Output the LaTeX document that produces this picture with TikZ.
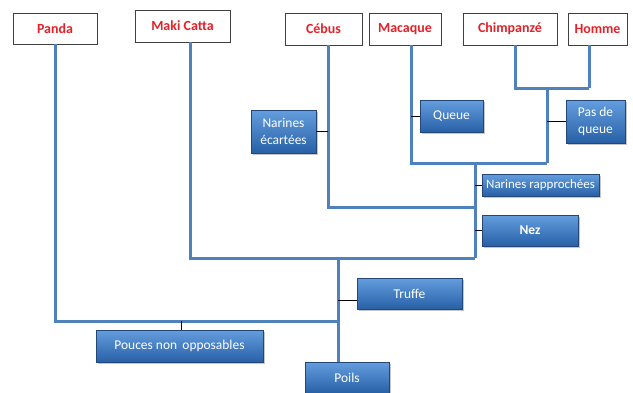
\documentclass[tikz,border=0pt]{standalone}
\usepackage{fontspec}
\setmainfont{Carlito}
\usetikzlibrary{shadows}
\definecolor{taxred}{RGB}{228,32,40}
\definecolor{branchblue}{RGB}{79,129,189}
\definecolor{boxtop}{RGB}{100,158,222}
\definecolor{boxbot}{RGB}{40,96,166}
\definecolor{boxedge}{RGB}{36,70,120}
\tikzset{
  taxon/.style={draw=black!75, fill=white, line width=0.8bp, inner sep=0pt,
    font=\bfseries\fontsize{14}{16}\selectfont, text=taxred},
  trait/.style={draw=boxedge, line width=0.6bp, top color=boxtop, bottom color=boxbot,
    inner sep=1pt, text=white, align=center, font=\fontsize{13.5}{17}\selectfont,
    drop shadow={shadow xshift=1.5bp, shadow yshift=-1.5bp, opacity=0.45}},
  branch/.style={draw=branchblue, line width=3bp, line join=miter},
  tick/.style={draw=black, line width=0.8bp}
}
\begin{document}
\begin{tikzpicture}[x=1bp,y=-1bp]
\useasboundingbox (0,0) rectangle (633,392);
% top taxa
\node[taxon, minimum width=84bp, minimum height=31bp] (panda) at (55,28.5) {Panda};
\node[taxon, minimum width=95bp, minimum height=32bp] (maki) at (182.5,26) {Maki Catta};
\node[taxon, minimum width=77bp, minimum height=32bp] (cebus) at (323.5,29) {Cébus};
\node[taxon, minimum width=72bp, minimum height=32bp] (macaque) at (405,29) {Macaque};
\node[taxon, minimum width=94bp, minimum height=32bp] (chimp) at (510,29) {Chimpanzé};
\node[taxon, minimum width=59bp, minimum height=32bp] (homme) at (597.5,29) {Homme};
% junction coordinates
\coordinate (trunkA) at (338,321);
\coordinate (trunkB) at (338,258);
\coordinate (nezJ) at (475,258);
\coordinate (cebJ) at (475,207);
\coordinate (topJ) at (475,163);
\coordinate (chJ) at (547,163);
\coordinate (hcJ) at (547,88);
\coordinate (hJ) at (589,88);
\coordinate (makiX) at (190,0);
\coordinate (cebX) at (328,0);
\coordinate (macX) at (411,0);
\coordinate (chX) at (515,0);
\coordinate (homX) at (589,0);
\coordinate (pouX) at (181,321);
\coordinate (truY) at (0,300);
% branches
\draw[branch] (panda.south) |- (trunkA);
\draw[branch] (maki.south -| makiX) |- (nezJ);
\draw[branch] (cebus.south -| cebX) |- (cebJ);
\draw[branch] (macaque.south -| macX) |- (chJ);
\draw[branch] (chimp.south -| chX) |- (hJ);
\draw[branch] (homme.south -| homX) -- (hJ);
\draw[branch] (chJ) -- (hcJ);
\draw[branch] (nezJ) -- (topJ);
% traits
\node[trait, minimum width=65bp, minimum height=43bp] (necart) at (283.5,131.5) {Narines\\écartées};
\node[trait, minimum width=63bp, minimum height=32bp] (queue) at (451.5,116) {Queue};
\node[trait, minimum width=59bp, minimum height=43bp] (pdq) at (595.5,121.5) {Pas de\\queue};
\node[trait, minimum width=117bp, minimum height=22bp, font=\fontsize{13}{15}\selectfont] (nrap) at (540.5,185) {Narines rapprochées};
\node[trait, minimum width=96bp, minimum height=31bp, font=\bfseries\fontsize{13.5}{16}\selectfont] (nez) at (530,230.5) {Nez};
\node[trait, minimum width=105bp, minimum height=31bp] (truffe) at (409.5,293.5) {Truffe};
\node[trait, minimum width=167bp, minimum height=32bp] (pouces) at (179.5,346) {Pouces non\, opposables};
\node[trait, minimum width=84bp, minimum height=31bp] (poils) at (347,377.5) {Poils};
\draw[branch] (trunkB) -- (poils.north -| trunkB);
% ticks
\draw[tick] (necart.east) -- (necart.east -| cebX);
\draw[tick] (queue.west) -- (queue.west -| macX);
\draw[tick] (pdq.west) -- (pdq.west -| hcJ);
\draw[tick] (nrap.west) -- (nrap.west -| topJ);
\draw[tick] (nez.west) -- (nez.west -| topJ);
\draw[tick] (truffe.west |- truY) -- (trunkB |- truY);
\draw[tick] (pouces.north -| pouX) -- (pouX);
\end{tikzpicture}
\end{document}
